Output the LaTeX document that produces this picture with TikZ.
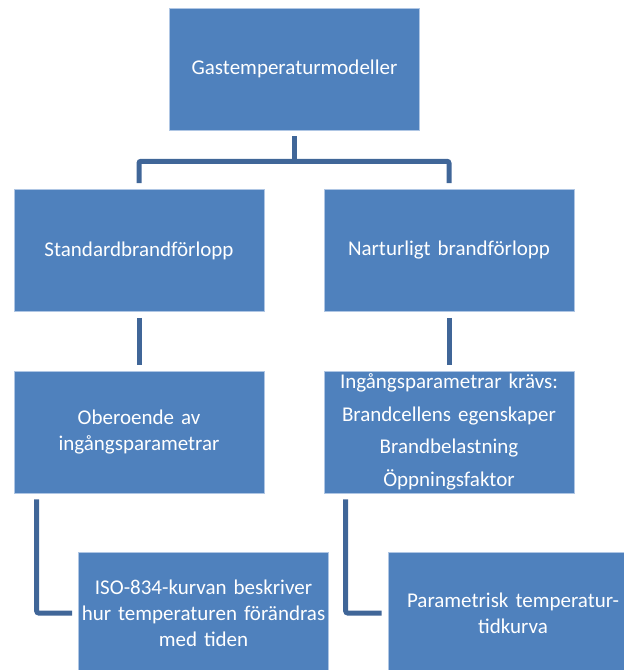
\documentclass[tikz,border=0pt]{standalone}
\usepackage{fontspec}
\setmainfont{Carlito}
\usetikzlibrary{calc}
\definecolor{boxblue}{RGB}{79,129,189}
\definecolor{linkblue}{RGB}{64,102,152}
\definecolor{rimblue}{RGB}{175,198,228}

\begin{document}
\begin{tikzpicture}[x=1pt,y=-1pt,
    box/.style={rectangle,draw=rimblue,line width=0.6pt,fill=boxblue,text=white,
      minimum width=250pt,minimum height=122pt,inner sep=1pt,text width=248pt,
      align=center,font=\fontsize{21}{26}\selectfont},
    link/.style={draw=linkblue,line width=5pt,rounded corners=2pt}]
    \clip (0,0) rectangle (624,670);
    \node (gas) at (294.5,69) [box]{Gastemperaturmodeller};
    \node (std) at (139,250.5) [box]{Standardbrandförlopp};
    \node (nat) at (449,250.5) [box]{Narturligt brandförlopp};
    \node (obe) at (139,432) [box]{Oberoende av\\ingångsparametrar};
    \node (ing) at (449,432) [box,font=\fontsize{21}{32.7}\selectfont]{Ingångsparametrar krävs:\\Brandcellens egenskaper\\Brandbelastning\\Öppningsfaktor};
    \node (iso) at (203.5,613) [box]{ISO-834-kurvan beskriver\\hur temperaturen förändras\\med tiden};
    \node (par) at (513,613) [box]{Parametrisk temperatur-\\tidkurva};
    \coordinate (fork) at ($(gas.south)+(0,31)$);
    \draw [link] ($(gas.south)+(0,6)$) -- (fork);
    \draw [link] ($(std.north)+(0,-6)$) |- (fork) -| ($(nat.north)+(0,-6)$);
    \draw [link] ($(std.south)+(0,6)$) -- ($(obe.north)+(0,-6)$);
    \draw [link] ($(nat.south)+(0,6)$) -- ($(ing.north)+(0,-6)$);
    \draw [link] ($(obe.south west)+(23,6)$) |- ($(iso.west)+(-6,0)$);
    \draw [link] ($(ing.south west)+(22,6)$) |- ($(par.west)+(-6,0)$);
  \end{tikzpicture}
\end{document}
